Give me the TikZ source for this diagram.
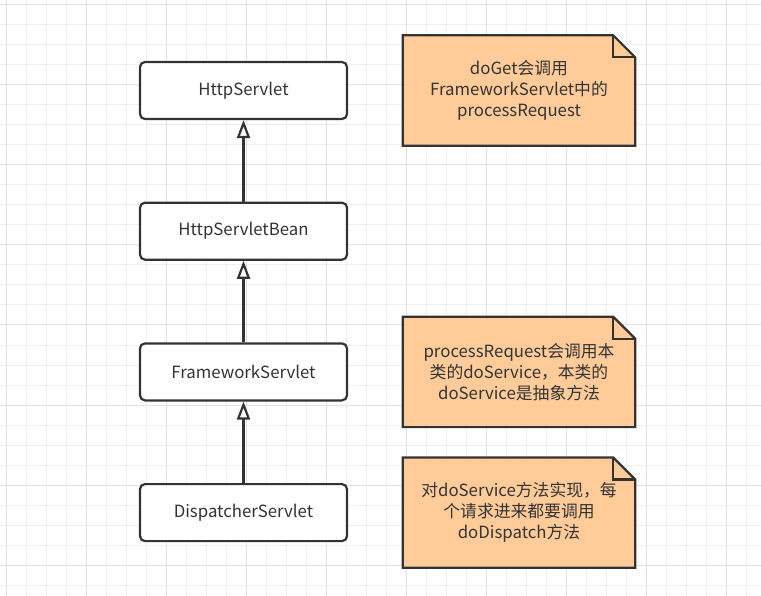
\documentclass[tikz,border=0pt]{standalone}
\usepackage{fontspec}
\setmainfont{Noto Sans CJK SC}
\usetikzlibrary{arrows.meta, positioning, backgrounds}
\definecolor{linec}{HTML}{333333}
\definecolor{notec}{HTML}{FFCC99}
\definecolor{gridc}{HTML}{EFEFEF}
\definecolor{gridm}{HTML}{E2E2E2}
\tikzstyle{block} = [draw=linec, line width=2.2pt, rounded corners=5pt, fill=white, minimum width=207pt, minimum height=57pt, text=linec, font=\fontsize{16.8}{20}\selectfont]
\tikzstyle{note} = [minimum width=232pt, minimum height=110pt, align=center, text=linec, font=\fontsize{16.8}{21}\selectfont]
\tikzstyle{inherit} = [draw=linec, line width=2.2pt, -{Triangle[fill=white, length=18pt, width=13pt]}]

\begin{document}
\begin{tikzpicture}[x=1pt, y=-1pt]
  \useasboundingbox (0,0) rectangle (761,596);

  \node[block] (c1) at (243.5,90.5) {HttpServlet};
  \node[block, below of=c1, node distance=140.7pt] (c2) {HttpServletBean};
  \node[block, below of=c2, node distance=140.7pt] (c3) {FrameworkServlet};
  \node[block, below of=c3, node distance=140.7pt] (c4) {DispatcherServlet};

  \node[note, right of=c1, node distance=275.5pt] (n1) {doGet会调用\\FrameworkServlet中的\\processRequest};
  \node[note, right of=c3, node distance=275.5pt] (n2) {processRequest会调用本\\类的doService，本类的\\doService是抽象方法};
  \node[note, right of=c4, node distance=275.5pt] (n3) {对doService方法实现，每\\个请求进来都要调用\\doDispatch方法};

  \draw[inherit] (c2) -- (c1);
  \draw[inherit] (c3) -- (c2);
  \draw[inherit] (c4) -- (c3);

  \begin{scope}[on background layer]
    \draw[gridc, line width=1pt, step=20pt, shift={(6.7,5)}] (-20,600) grid (760,-20);
    \draw[gridm, line width=1pt, step=80pt, shift={(6.7,5)}] (-80,640) grid (800,-80);
    \foreach \n in {n1,n2,n3} {
      \draw[linec, line width=2.2pt, fill=notec] (\n.south west) -- (\n.north west) -- ([xshift=-22pt]\n.north east) -- ([yshift=-22pt]\n.north east) -- (\n.south east) -- cycle;
      \draw[linec, line width=2.2pt] ([xshift=-22pt]\n.north east) |- ([yshift=-22pt]\n.north east);
    }
  \end{scope}
\end{tikzpicture}
\end{document}
